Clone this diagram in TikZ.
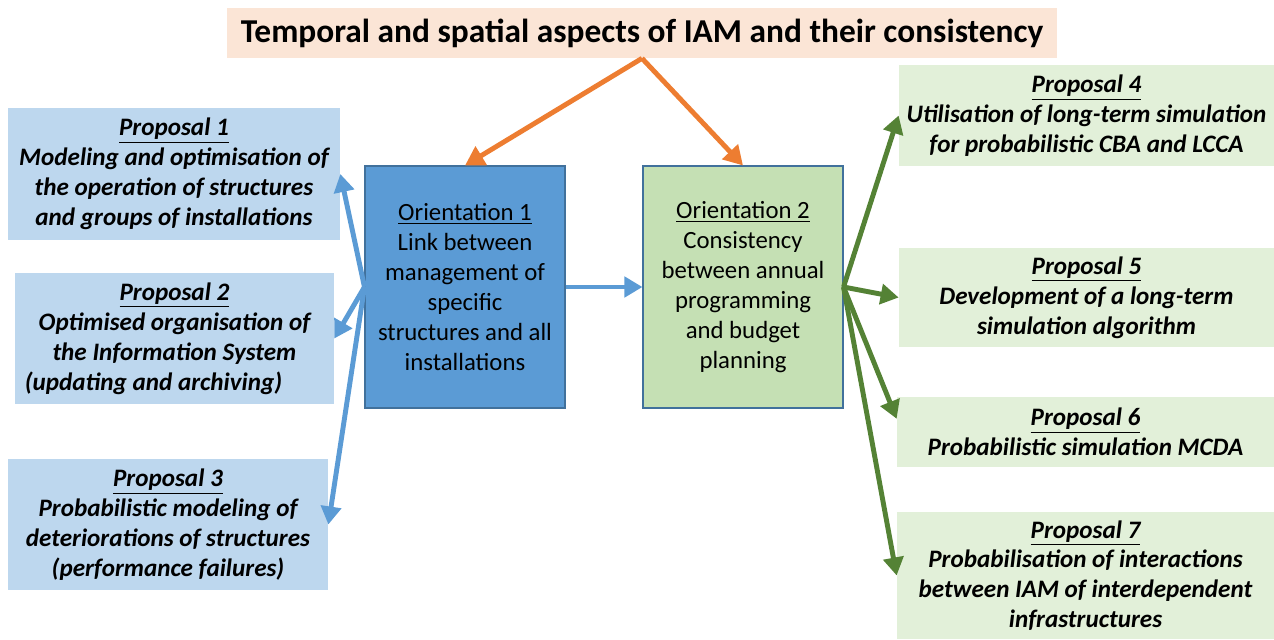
\documentclass[tikz,border=0pt]{standalone}
\usepackage{fontspec}
\setmainfont{Carlito}
\usepackage{xcolor}
\usepackage{tikz}
\usetikzlibrary{arrows.meta}
\definecolor{peach}{HTML}{FBE5D6}
\definecolor{paleblue}{HTML}{BDD7EE}
\definecolor{midblue}{HTML}{5B9BD5}
\definecolor{edgeblue}{HTML}{41719C}
\definecolor{sage}{HTML}{C5E0B4}
\definecolor{palegreen}{HTML}{E2F0D9}
\definecolor{orange}{HTML}{ED7D31}
\definecolor{darkgreen}{HTML}{548235}
\tikzset{
  headbox/.style={fill=peach, inner sep=0pt, minimum width=16.6cm, minimum height=1cm,
    font=\fontsize{19}{22}\selectfont\bfseries},
  propbox/.style={inner sep=0pt, align=center, font=\fontsize{14.3}{17}\selectfont\bfseries\itshape},
  propblue/.style={propbox, fill=paleblue},
  propgreen/.style={propbox, fill=palegreen},
  orientbox/.style={draw=edgeblue, line width=0.6pt, inner sep=0pt, align=center,
    minimum width=4cm, minimum height=4.84cm, font=\fontsize{14.1}{17}\selectfont},
  oarrow/.style={draw=orange, line width=2.8pt, -{Triangle[length=0.38cm, width=0.42cm]}},
  barrow/.style={draw=midblue, line width=2.8pt, -{Triangle[length=0.36cm, width=0.4cm]}},
  garrow/.style={draw=darkgreen, line width=2.8pt, -{Triangle[length=0.36cm, width=0.4cm]}}
}

\begin{document}
\begin{tikzpicture}
  \useasboundingbox (0,0) rectangle (25.48,-12.78);

  % top
  \node[headbox] (title) at (12.84,-0.66) {Temporal and spatial aspects of IAM and their consistency};

  % orientations
  \node[orientbox, fill=midblue] (orient1) at (9.3,-5.74)
    {\underline{Orientation 1}\\Link between\\management of\\specific\\structures and all\\installations};
  \node[orientbox, fill=sage] (orient2) at (14.86,-5.74)
    {\underline{Orientation 2}\\Consistency\\between annual\\programming\\and budget\\planning};

  % left proposals
  \node[propblue, minimum width=6.64cm, minimum height=2.64cm] (prop1) at (3.48,-3.48)
    {\underline{Proposal 1}\\Modeling and optimisation of\\the operation of structures\\and groups of installations};
  \node[propblue, minimum width=6.38cm, minimum height=2.62cm] (prop2) at (3.49,-6.77)
    {\underline{Proposal 2}\\Optimised organisation of\\the Information System\\(updating and archiving)\hspace*{0.84cm}};
  \node[propblue, minimum width=6.4cm, minimum height=2.62cm] (prop3) at (3.36,-10.49)
    {\underline{Proposal 3}\\Probabilistic modeling of\\deteriorations of structures\\(performance failures)};

  % right proposals
  \node[propgreen, minimum width=7.5cm, minimum height=2.02cm] (prop4) at (21.73,-2.31)
    {\underline{Proposal 4}\\Utilisation of long-term simulation\\for probabilistic CBA and LCCA};
  \node[propgreen, minimum width=7.5cm, minimum height=1.98cm] (prop5) at (21.73,-5.95)
    {\underline{Proposal 5}\\Development of a long-term\\simulation algorithm};
  \node[propgreen, minimum width=7.54cm, minimum height=1.4cm] (prop6) at (21.71,-8.64)
    {\underline{Proposal 6}\\Probabilistic simulation MCDA};
  \node[propgreen, minimum width=7.54cm, minimum height=2.54cm] (prop7) at (21.71,-11.51)
    {\underline{Proposal 7}\\Probabilisation of interactions\\between IAM of interdependent\\infrastructures};

  % connectors
  \draw[oarrow] (title.south) -- (orient1.north);
  \draw[oarrow] (title.south) -- (orient2.north);

  \draw[barrow] (orient1.west) -- (prop1.east);
  \draw[barrow] (orient1.west) -- (prop2.east);
  \draw[barrow] (orient1.west) -- (prop3.east);
  \draw[barrow] (orient1.east) -- (orient2.west);

  \draw[garrow] (orient2.east) -- (prop4.west);
  \draw[garrow] (orient2.east) -- (prop5.west);
  \draw[garrow] (orient2.east) -- (prop6.176);
  \draw[garrow] (orient2.east) -- (prop7.west);
\end{tikzpicture}
\end{document}
